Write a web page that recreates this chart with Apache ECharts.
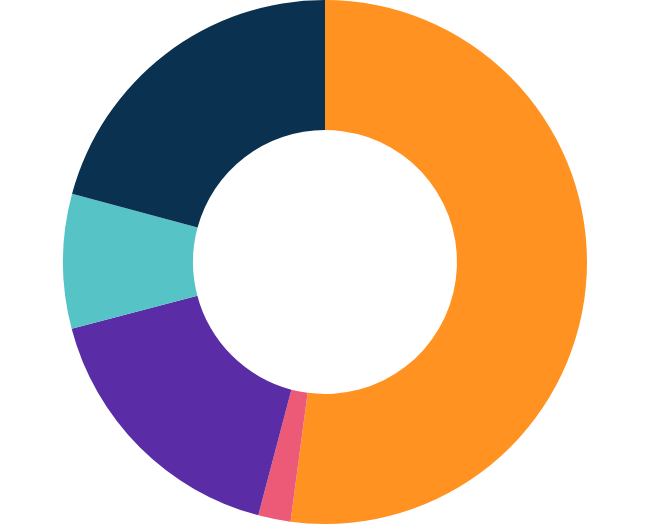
<!DOCTYPE html>
<html>
<head>
<meta charset="utf-8">
<script src="https://cdn.jsdelivr.net/npm/echarts@6/dist/echarts.min.js"></script>
<style>html,body{margin:0;padding:0;background:#fff;}#c{width:651px;height:524px;}</style>
</head>
<body>
<div id="c"></div>
<script>
const categories = ['A', 'B', 'C', 'D', 'E'];
const values = [52.1, 2.0, 16.8, 8.3, 20.8];
const colors = ['#FF9220', '#EC5A78', '#5A2DA6', '#56C4C7', '#0A3150'];

const chart = echarts.init(document.getElementById('c'), null, {renderer: 'canvas'});
chart.setOption({
  animation: false,
  series: [{
    type: 'pie',
    center: [325, 262],
    radius: [132, 262],
    startAngle: 90,
    clockwise: true,
    label: {show: false},
    labelLine: {show: false},
    itemStyle: {borderWidth: 0},
    emphasis: {disabled: true},
    data: categories.map((c, i) => ({name: c, value: values[i], itemStyle: {color: colors[i]}}))
  }]
});
</script>
</body>
</html>
